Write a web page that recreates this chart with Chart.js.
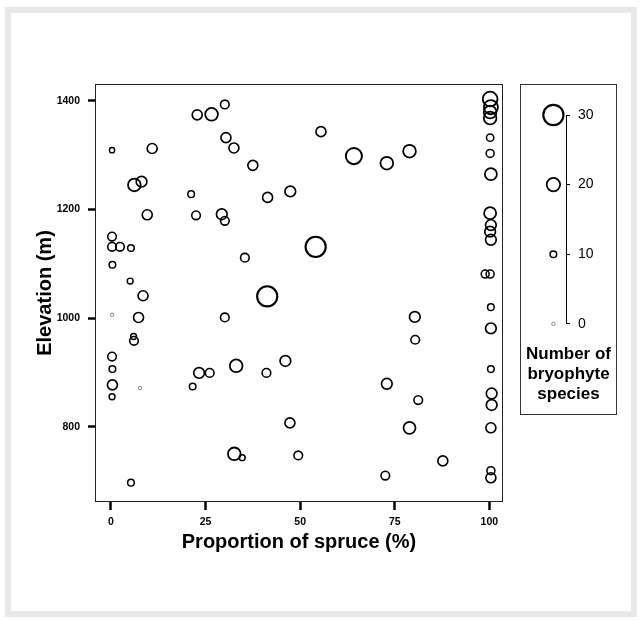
<!DOCTYPE html>
<html>
<head>
<meta charset="utf-8">
<script src="https://cdn.jsdelivr.net/npm/chart.js@4/dist/chart.umd.min.js"></script>
<style>
  body { margin: 0; background: #fff; }
  #frame { position: absolute; left: 5px; top: 7px; width: 632px; height: 610px; box-sizing: border-box; border: 6px solid #e8e8e8; }
  #plotBox { position: absolute; left: 0; top: 0; width: 520px; height: 620px; }
  #legendBox { position: absolute; left: 520px; top: 84px; width: 97px; height: 331px; box-sizing: border-box; border: 1px solid #333; }
</style>
</head>
<body>
<div id="frame"></div>
<div id="plotBox"><canvas id="bubbleChart"></canvas></div>
<div id="legendBox"><canvas id="legendChart"></canvas></div>
<script>
// proportion of spruce (%), elevation (m), number of bryophyte species per plot
const spruce = [
  30.1, 22.8, 26.6, 30.4, 32.5, 0.3, 10.9, 37.5, 6.2, 8.1,
  21.2, 41.4, 47.4, 9.6, 22.5, 29.3, 30.1, 0.3, 0.3, 2.4,
  5.3, 0.4, 5.1, 8.5, 41.3, 35.4, 55.5, 64.2, 72.9, 78.9,
  54.1, 100.2, 100.4, 100.2, 100.2, 100.2, 100.2, 100.4, 100.2, 100.4,
  100.2, 100.4, 98.9, 100.2, 0.3, 7.3, 30.1, 6.0, 6.1, 0.3,
  0.4, 0.4, 0.3, 7.7, 21.6, 23.3, 26.1, 33.1, 41.1, 46.1,
  47.3, 32.6, 34.7, 49.5, 5.3, 100.4, 80.3, 100.4, 80.4, 100.4,
  72.9, 81.2, 100.6, 100.6, 78.9, 100.4, 87.7, 72.5, 100.4, 100.4
];
const elevation = [
  1393, 1374, 1375, 1332, 1313, 1309, 1312, 1281, 1245, 1251,
  1228, 1222, 1233, 1190, 1189, 1191, 1179, 1150, 1131, 1131,
  1129, 1098, 1068, 1041, 1040, 1111, 1343, 1298, 1285, 1307,
  1131, 1403, 1388, 1379, 1368, 1332, 1303, 1265, 1193, 1171,
  1159, 1144, 1081, 1081, 1006, 1001, 1001, 966, 958, 929,
  906, 877, 855, 871, 874, 899, 899, 912, 899, 921,
  807, 750, 743, 747, 697, 1020, 1002, 981, 960, 906,
  879, 849, 861, 840, 798, 798, 737, 710, 719, 706
];
const species = [
  13, 15, 19, 15, 15, 8, 15, 15, 19, 16,
  10, 15, 16, 15, 13, 16, 13, 13, 13, 13,
  10, 10, 9, 15, 30, 13, 15, 24, 19, 19,
  30, 22, 21, 19, 19, 11, 12, 18, 18, 16,
  16, 16, 12, 12, 4, 15, 13, 9, 13, 13,
  10, 15, 9, 4, 10, 16, 13, 19, 13, 16,
  15, 19, 9, 13, 10, 10, 16, 16, 13, 10,
  16, 13, 16, 16, 18, 15, 15, 13, 12, 15
];

const xTicks = [0, 25, 50, 75, 100];
const xTickLabels = ['0', '25', '50', '75', '100'];
const yTicks = [800, 1000, 1200, 1400];
const yTickLabels = ['800', '1000', '1200', '1400'];
const legendSpecies = [0, 10, 20, 30];
const legendLabels = ['0', '10', '20', '30'];

const FONT = "'Liberation Sans', Arial, Helvetica, sans-serif";

// circle size grows with species number
function radius(n) {
  return Math.max(1.7, 0.34 * n - 0.1);
}
function ringWidth(ctx) {
  const r = ctx.raw.r;
  return r < 2 ? 0.8 : 1.2 + r * 0.09;
}
function ringColour(ctx) {
  return ctx.raw.r < 2 ? '#666' : '#000';
}

const boxPlugin = {
  id: 'plotFrame',
  afterDraw(chart) {
    const a = chart.chartArea;
    const c = chart.ctx;
    c.save();
    c.strokeStyle = '#222';
    c.lineWidth = 1;
    c.strokeRect(a.left + 0.5, a.top + 0.5, a.right - a.left - 1, a.bottom - a.top - 1);
    c.restore();
  }
};

new Chart(document.getElementById('bubbleChart'), {
  type: 'bubble',
  data: {
    datasets: [{
      data: spruce.map((x, i) => ({ x: x, y: elevation[i], r: radius(species[i]) })),
      backgroundColor: 'rgba(0,0,0,0)',
      borderColor: ringColour,
      borderWidth: ringWidth,
      hoverRadius: 0,
      clip: false
    }]
  },
  options: {
    responsive: true,
    maintainAspectRatio: false,
    animation: false,
    events: [],
    layout: { padding: { left: 0, top: 84, right: 17, bottom: 66 } },
    plugins: { legend: { display: false }, tooltip: { enabled: false } },
    scales: {
      x: {
        type: 'linear',
        min: -4.2,
        max: 103.6,
        afterBuildTicks: s => { s.ticks = xTicks.map(v => ({ value: v })); },
        afterFit: s => { s.height = 52; },
        grid: { drawOnChartArea: false, tickLength: 8, tickWidth: 2.5, tickColor: '#000' },
        border: { display: false },
        ticks: {
          color: '#000', padding: 6,
          font: { family: FONT, size: 10.5, weight: 'bold' },
          callback: (v, i) => xTickLabels[i]
        },
        title: {
          display: true,
          text: 'Proportion of spruce (%)',
          color: '#000',
          padding: { top: 0, bottom: 0 },
          font: { family: FONT, size: 20, weight: 'bold' }
        }
      },
      y: {
        type: 'linear',
        min: 661.4,
        max: 1430.7,
        afterBuildTicks: s => { s.ticks = yTicks.map(v => ({ value: v })); },
        afterFit: s => { s.width = 95; },
        grid: { drawOnChartArea: false, tickLength: 7, tickWidth: 2.5, tickColor: '#000' },
        border: { display: false },
        ticks: {
          color: '#000', padding: 8,
          font: { family: FONT, size: 10.5, weight: 'bold' },
          callback: (v, i) => yTickLabels[i]
        },
        title: {
          display: true,
          text: 'Elevation (m)',
          color: '#000',
          padding: { top: 33, bottom: 0 },
          font: { family: FONT, size: 20, weight: 'bold' }
        }
      }
    }
  },
  plugins: [boxPlugin]
});

// size key in the side panel
new Chart(document.getElementById('legendChart'), {
  type: 'bubble',
  data: {
    datasets: [{
      data: legendSpecies.map(n => ({ x: 0, y: n, r: radius(n) })),
      backgroundColor: 'rgba(0,0,0,0)',
      borderColor: ringColour,
      borderWidth: ringWidth,
      hoverRadius: 0,
      clip: false
    }]
  },
  options: {
    responsive: true,
    maintainAspectRatio: false,
    animation: false,
    events: [],
    layout: { padding: { left: 0, top: 30, right: 0, bottom: 0 } },
    plugins: {
      legend: { display: false },
      tooltip: { enabled: false },
      title: {
        display: true,
        position: 'bottom',
        text: ['Number of', 'bryophyte', 'species'],
        color: '#000',
        padding: { top: 20, bottom: 10 },
        font: { family: FONT, size: 17, weight: 'bold', lineHeight: 1.18 }
      }
    },
    scales: {
      x: { display: false, min: -1.6, max: 1 },
      y: {
        position: 'right',
        min: 0,
        max: 30,
        afterBuildTicks: s => { s.ticks = legendSpecies.map(v => ({ value: v })); },
        afterFit: s => { s.width = 50; },
        grid: { drawOnChartArea: false, tickLength: 4, tickWidth: 1, tickColor: '#000' },
        border: { display: true, color: '#000', width: 1 },
        ticks: {
          color: '#000', padding: 8,
          font: { family: FONT, size: 14 },
          callback: (v, i) => legendLabels[i]
        }
      }
    }
  }
});
</script>
</body>
</html>
